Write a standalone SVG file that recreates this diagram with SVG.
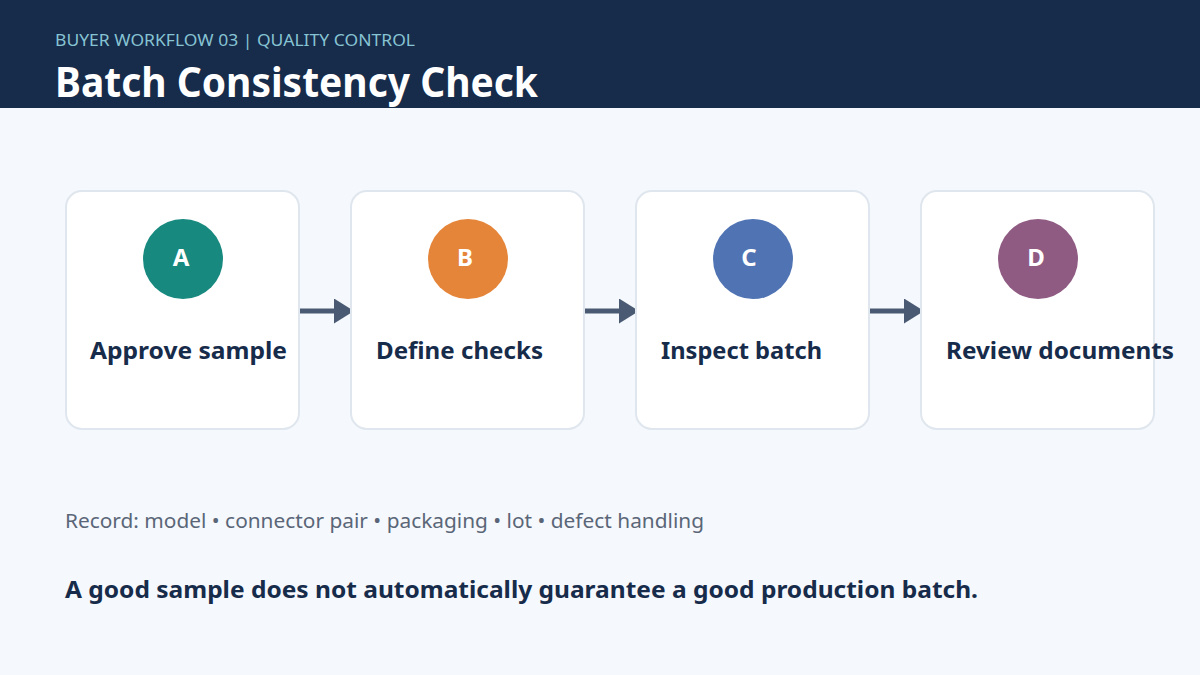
<svg xmlns="http://www.w3.org/2000/svg" width="1200" height="675" viewBox="0 0 1200 675">
<defs>
<style>
.card{fill:#ffffff;stroke:#dfe6ee;stroke-width:2}
.lbl{font-family:"Noto Sans","Open Sans",sans-serif;font-weight:700;font-size:23px;fill:#172b4a}
.let{font-family:"Noto Sans","Open Sans",sans-serif;font-weight:700;font-size:24px;fill:#ffffff;text-anchor:middle}
.conn{stroke:#4a5a72;stroke-width:5;fill:none}
</style>
<marker id="ah" markerWidth="4" markerHeight="5" refX="0" refY="2.5" orient="auto" markerUnits="strokeWidth">
<path d="M0,0 L4,2.5 L0,5 Z" fill="#4a5a72"/>
</marker>
</defs>
<rect x="0" y="0" width="1200" height="675" fill="#f5f8fc"/>
<g id="header">
<rect x="0" y="0" width="1200" height="108" fill="#172b4a"/>
<text x="55" y="46" font-family="Noto Sans, Open Sans, sans-serif" font-size="16.5" fill="#86c3d3" textLength="360" lengthAdjust="spacingAndGlyphs">BUYER WORKFLOW 03  |  QUALITY CONTROL</text>
<text x="55" y="97" font-family="Noto Sans, Open Sans, sans-serif" font-weight="700" font-size="41" fill="#ffffff" textLength="483" lengthAdjust="spacingAndGlyphs">Batch Consistency Check</text>
</g>
<g id="connectors">
<line class="conn" x1="300" y1="311" x2="334" y2="311" marker-end="url(#ah)"/>
<line class="conn" x1="585" y1="311" x2="619" y2="311" marker-end="url(#ah)"/>
<line class="conn" x1="870" y1="311" x2="904" y2="311" marker-end="url(#ah)"/>
</g>
<g id="nodeA">
<rect class="card" x="66" y="191" width="233" height="238" rx="16"/>
<circle cx="183" cy="259" r="40" fill="#17897f"/>
<text class="let" x="181" y="266">A</text>
<text class="lbl" x="90" y="359" textLength="197" lengthAdjust="spacingAndGlyphs">Approve sample</text>
</g>
<g id="nodeB">
<rect class="card" x="351" y="191" width="233" height="238" rx="16"/>
<circle cx="468" cy="259" r="40" fill="#e5853a"/>
<text class="let" x="465" y="266">B</text>
<text class="lbl" x="376" y="359" textLength="167" lengthAdjust="spacingAndGlyphs">Define checks</text>
</g>
<g id="nodeC">
<rect class="card" x="636" y="191" width="233" height="238" rx="16"/>
<circle cx="753" cy="259" r="40" fill="#4f73b3"/>
<text class="let" x="749" y="266">C</text>
<text class="lbl" x="661" y="359" textLength="161" lengthAdjust="spacingAndGlyphs">Inspect batch</text>
</g>
<g id="nodeD">
<rect class="card" x="921" y="191" width="233" height="238" rx="16"/>
<circle cx="1038" cy="259" r="40" fill="#8f5b82"/>
<text class="let" x="1036" y="266">D</text>
<text class="lbl" x="946" y="359" textLength="228" lengthAdjust="spacingAndGlyphs">Review documents</text>
</g>
<g id="notes">
<text x="65" y="528" font-family="Noto Sans, Open Sans, sans-serif" font-size="20" fill="#5a6678" textLength="639" lengthAdjust="spacingAndGlyphs">Record: model • connector pair • packaging • lot • defect handling</text>
<text x="65" y="598" font-family="Noto Sans, Open Sans, sans-serif" font-weight="700" font-size="23" fill="#172b4a" textLength="913" lengthAdjust="spacingAndGlyphs">A good sample does not automatically guarantee a good production batch.</text>
</g>
</svg>
